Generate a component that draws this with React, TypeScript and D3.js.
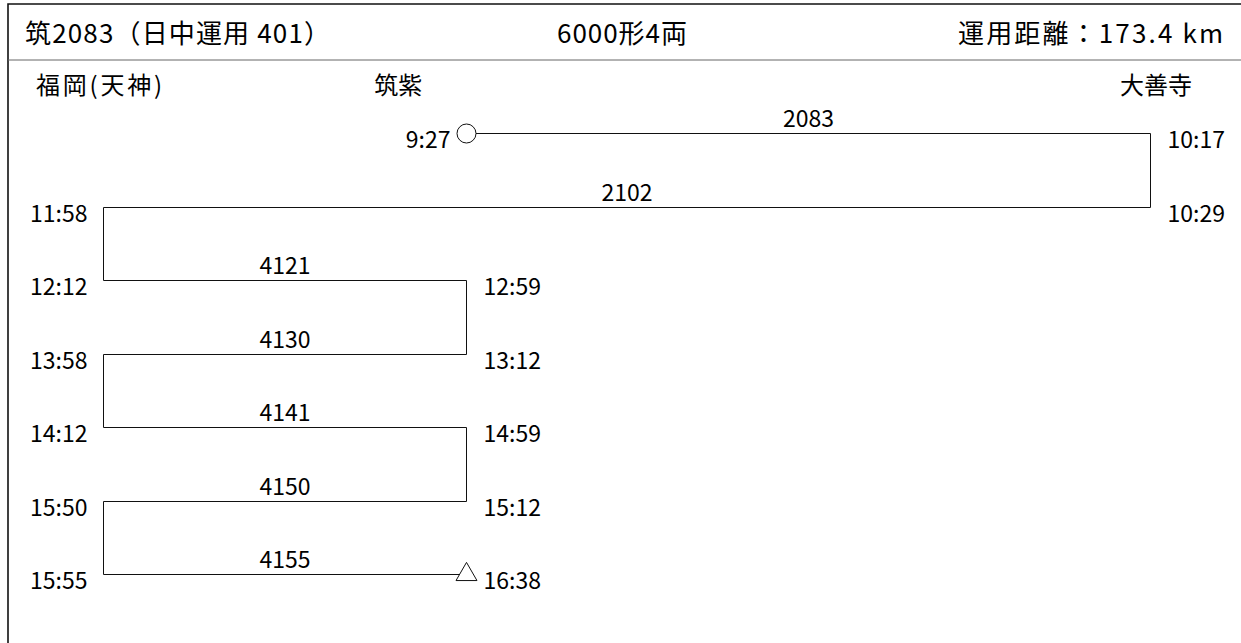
import { useEffect, useRef } from "react";
import * as d3 from "d3";

const headerLeft = "筑2083（日中運用 401）";
const headerCenter = "6000形4両";
const headerRight = "運用距離：173.4 km";

const stations = ["福岡(天神)", "筑紫", "大善寺"];
const stationOffsets = [0, 0.347, 1];

const trainNumbers = ["2083", "2102", "4121", "4130", "4141", "4150", "4155"];
const fromStations = [1, 2, 0, 1, 0, 1, 0];
const toStations = [2, 0, 1, 0, 1, 0, 1];
const departures = ["9:27", "10:29", "12:12", "13:12", "14:12", "15:12", "15:55"];
const arrivals = ["10:17", "11:58", "12:59", "13:58", "14:59", "15:50", "16:38"];

const FONT = "'Noto Sans CJK JP', 'Noto Sans', sans-serif";

export default function App() {
  const svgRef = useRef<SVGSVGElement | null>(null);

  useEffect(() => {
    const svgElement = svgRef.current;
    if (!svgElement) return;

    const width = 1241;
    const height = 643;
    const svg = d3.select(svgElement);
    svg.selectAll("*").remove();
    svg.attr("viewBox", `0 0 ${width} ${height}`);

    const x = d3.scaleLinear().domain([0, 1]).range([103, 1150]);
    const y = d3
      .scalePoint<number>()
      .domain(trainNumbers.map((_, i) => i))
      .range([133, 574]);
    const sx = (i: number) => Math.round(x(stationOffsets[i])) + 0.5;
    const ry = (i: number) => Math.round(y(i) ?? 0) + 0.5;

    // frame and header
    svg
      .append("path")
      .attr("d", `M8,${height} V4 H${width}`)
      .attr("fill", "none")
      .attr("stroke", "#111")
      .attr("stroke-width", 1.6);
    svg
      .append("line")
      .attr("x1", 8)
      .attr("x2", width)
      .attr("y1", 60)
      .attr("y2", 60)
      .attr("stroke", "#666")
      .attr("stroke-width", 1);

    const header = svg
      .append("g")
      .attr("font-family", FONT)
      .attr("font-size", 26)
      .attr("fill", "#000");
    header.append("text").attr("x", 25).attr("y", 43).attr("textLength", 305).text(headerLeft);
    header
      .append("text")
      .attr("x", 622)
      .attr("y", 43)
      .attr("text-anchor", "middle")
      .attr("textLength", 130)
      .text(headerCenter);
    header
      .append("text")
      .attr("x", 1223)
      .attr("y", 43)
      .attr("text-anchor", "end")
      .attr("textLength", 265)
      .text(headerRight);

    // station names
    const labelDx = [-4, -68, 6];
    svg
      .append("g")
      .attr("font-family", FONT)
      .attr("font-size", 24)
      .attr("fill", "#000")
      .selectAll("text")
      .data(stations)
      .join("text")
      .attr("x", (_, i) => x(stationOffsets[i]) + labelDx[i])
      .attr("y", 94)
      .attr("text-anchor", "middle")
      .attr("textLength", (_, i) => (i === 0 ? 126 : null))
      .text((d) => d);

    // route line
    const points: [number, number][] = [];
    trainNumbers.forEach((_, i) => {
      points.push([sx(fromStations[i]), ry(i)]);
      points.push([sx(toStations[i]), ry(i)]);
    });
    svg
      .append("path")
      .attr("d", d3.line()(points))
      .attr("fill", "none")
      .attr("stroke", "#111")
      .attr("stroke-width", 1);

    // start / end marks
    svg
      .append("circle")
      .attr("cx", sx(fromStations[0]))
      .attr("cy", ry(0))
      .attr("r", 9.5)
      .attr("fill", "#fff")
      .attr("stroke", "#111")
      .attr("stroke-width", 1);
    const last = trainNumbers.length - 1;
    svg
      .append("path")
      .attr("d", d3.symbol(d3.symbolTriangle, 190)())
      .attr("transform", `translate(${sx(toStations[last])}, ${ry(last)})`)
      .attr("fill", "#fff")
      .attr("stroke", "#111")
      .attr("stroke-width", 1);

    // train numbers
    svg
      .append("g")
      .attr("font-family", FONT)
      .attr("font-size", 23)
      .attr("fill", "#000")
      .selectAll("text")
      .data(trainNumbers)
      .join("text")
      .attr("x", (_, i) => (sx(fromStations[i]) + sx(toStations[i])) / 2)
      .attr("y", (_, i) => ry(i) - 7)
      .attr("text-anchor", "middle")
      .text((d) => d);

    // times
    const times = svg
      .append("g")
      .attr("font-family", FONT)
      .attr("font-size", 23)
      .attr("fill", "#000");
    trainNumbers.forEach((_, i) => {
      const x0 = sx(fromStations[i]);
      const x1 = sx(toStations[i]);
      const ends: [number, string][] = [
        [x0, departures[i]],
        [x1, arrivals[i]],
      ];
      ends.forEach(([px, label]) => {
        const isLeft = px === Math.min(x0, x1);
        times
          .append("text")
          .attr("x", isLeft ? px - 16 : px + 17)
          .attr("y", ry(i) + 14)
          .attr("text-anchor", isLeft ? "end" : "start")
          .text(label);
      });
    });
  }, []);

  return (
    <svg
      ref={svgRef}
      width={1241}
      height={643}
      style={{ position: "absolute", left: 0, top: 0, background: "#fff" }}
    />
  );
}
